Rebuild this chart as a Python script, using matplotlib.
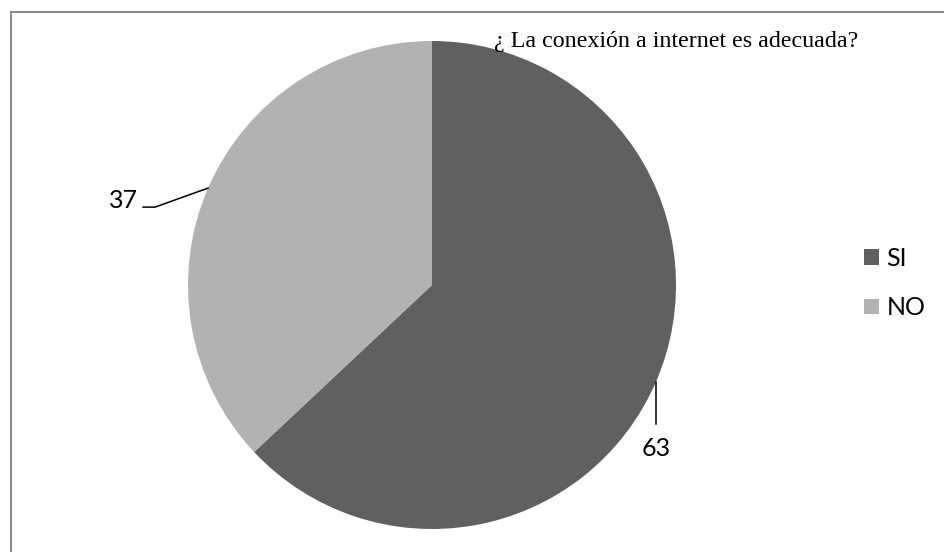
import numpy as np
import matplotlib.pyplot as plt
from matplotlib.lines import Line2D
from matplotlib.patches import Patch

# data
labels = ['SI', 'NO']
values = [63, 37]
colors = ['#606060', '#b2b2b2']
title = '¿ La conexión a internet es adecuada?'

W, H = 945, 552
fig = plt.figure(figsize=(W / 100, H / 100), dpi=100)
ax = fig.add_axes([0, 0, 1, 1])

wedges, _ = ax.pie(values, colors=colors, startangle=90, counterclock=False,
                   center=(432, H - 285), radius=244, frame=True,
                   wedgeprops=dict(linewidth=0))
ax.set_xlim(0, W)
ax.set_ylim(0, H)
ax.set_aspect('equal')
ax.axis('off')

lab_font = dict(family=['Lato', 'DejaVu Sans'], fontsize=18, color='black')

# value labels with leader lines
for w, v in zip(wedges, values):
    ang = np.deg2rad((w.theta1 + w.theta2) / 2)
    x = w.center[0] + w.r * np.cos(ang)
    y = w.center[1] + w.r * np.sin(ang)
    if np.cos(ang) > 0:
        ax.plot([x, x], [y, y - 42], color='black', lw=1.1)
        ax.text(x, y - 74, str(v), ha='center', va='baseline', **lab_font)
    else:
        ax.plot([x, x - 53, x - 65], [y, y - 19, y - 19], color='black', lw=1.1)
        ax.text(x - 70, y - 20, str(v), ha='right', va='baseline', **lab_font)

# title
ax.text(676, H - 47, title, ha='center', va='baseline',
        family=['Liberation Serif', 'DejaVu Serif'], fontsize=17.3)

# legend
handles = [Patch(facecolor=c, edgecolor='none') for c in colors]
leg = ax.legend(handles, labels, loc='upper left', bbox_to_anchor=(864 / W, 1 - 247 / H),
                frameon=False, prop=dict(family=['Lato', 'DejaVu Sans'], size=18),
                handlelength=0.6, handleheight=0.6, handletextpad=0.3,
                labelspacing=1.05, borderpad=0, borderaxespad=0)

# chart border (top and left)
fig.add_artist(Line2D([11 / W, 1], [1 - 12 / H, 1 - 12 / H], color='#8c8c8c', lw=1.5))
fig.add_artist(Line2D([11 / W, 11 / W], [0, 1 - 12 / H], color='#8c8c8c', lw=1.5))

fig.savefig('out.png', dpi=100)
